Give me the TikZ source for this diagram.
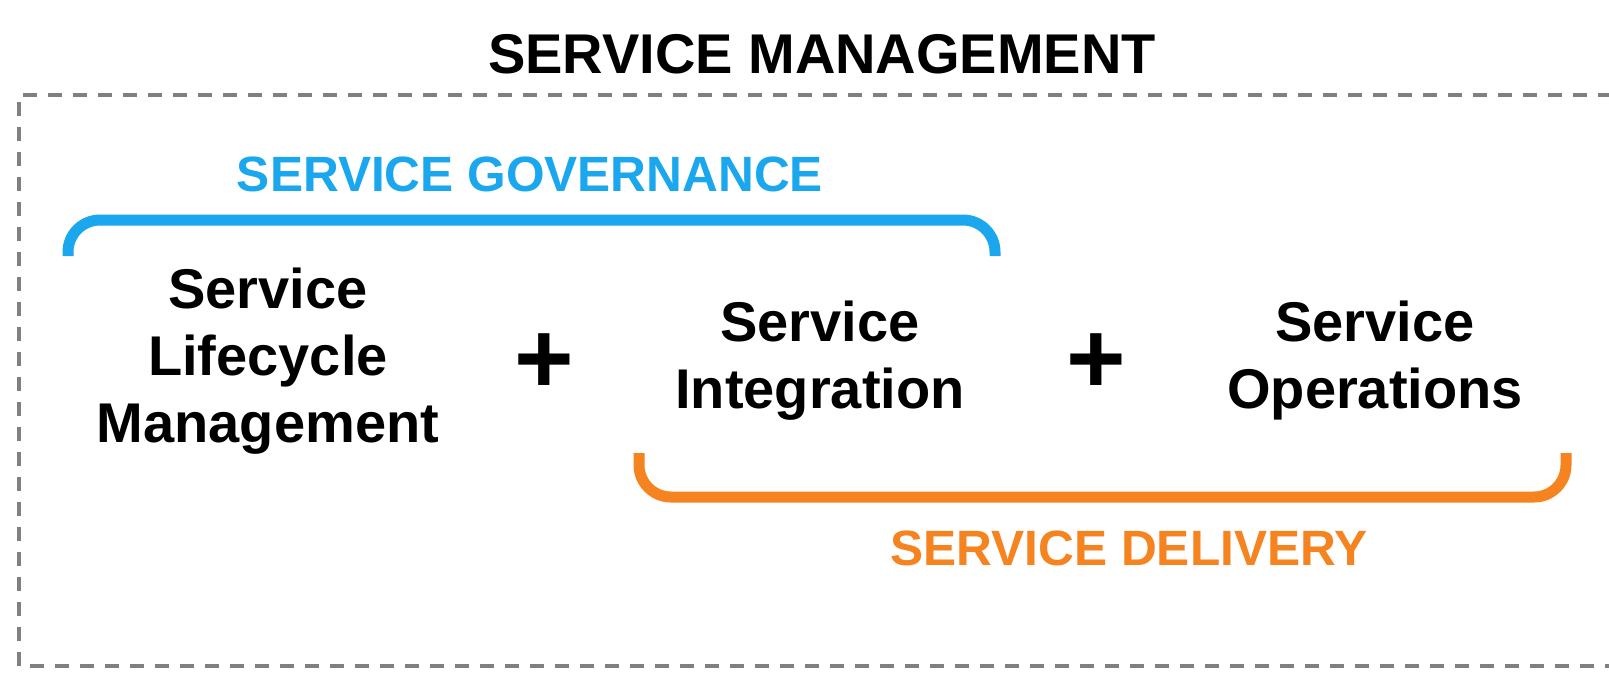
\documentclass[tikz,border=0pt]{standalone}
\usepackage{fontspec}
\setmainfont{Liberation Sans}
\definecolor{govblue}{RGB}{27,167,238}
\definecolor{delorange}{RGB}{245,131,31}
\definecolor{framegray}{RGB}{128,128,128}

\begin{document}
\begin{tikzpicture}[x=0.5pt, y=-0.5pt]
    \tikzstyle{heading}=[font=\bfseries\fontsize{28}{34}\selectfont, inner sep=0pt]
    \tikzstyle{group}=[font=\bfseries\fontsize{24.8}{29}\selectfont, inner sep=0pt]
    \tikzstyle{part}=[font=\bfseries\fontsize{28}{33.5}\selectfont, align=center, inner sep=0pt]
    \tikzstyle{plus}=[font=\bfseries\fontsize{51}{60}\selectfont, inner sep=0pt]
    \tikzstyle{bracket}=[line width=5.5pt, rounded corners=16pt]
    \tikzstyle{frame}=[framegray, line width=1.6pt, dash pattern=on 7pt off 5.5pt]

    \useasboundingbox (0,0) rectangle (1609,675);
    \clip (0,0) rectangle (1609,675);

    % dashed frame, open to the right
    \draw[frame] (19,666) -- (19,95) -- (1640,95);
    \draw[frame, dash phase=7pt] (19,666) -- (1640,666);

    \node[heading] (title) at (822,54) {SERVICE MANAGEMENT};

    % brackets
    \draw[bracket, govblue] (68,256) -- (68,220) -- (995,220) -- (995,256);
    \draw[bracket, delorange] (639,453) -- (639,497) -- (1566,497) -- (1566,453);

    \node[group, text=govblue] (gov) at (530,174) {SERVICE GOVERNANCE};
    \node[group, text=delorange] (del) at (1129,548) {SERVICE DELIVERY};

    \node[part] (slm) at (268,361) {Service\\Lifecycle\\Management};
    \node[part] (si) at (820,361) {Service\\Integration};
    \node[part] (so) at (1375,361) {Service\\Operations};

    \foreach \x/\n in {544/1, 1096/2}
        \node[plus] (plus\n) at (\x,364) {+};
\end{tikzpicture}
\end{document}
